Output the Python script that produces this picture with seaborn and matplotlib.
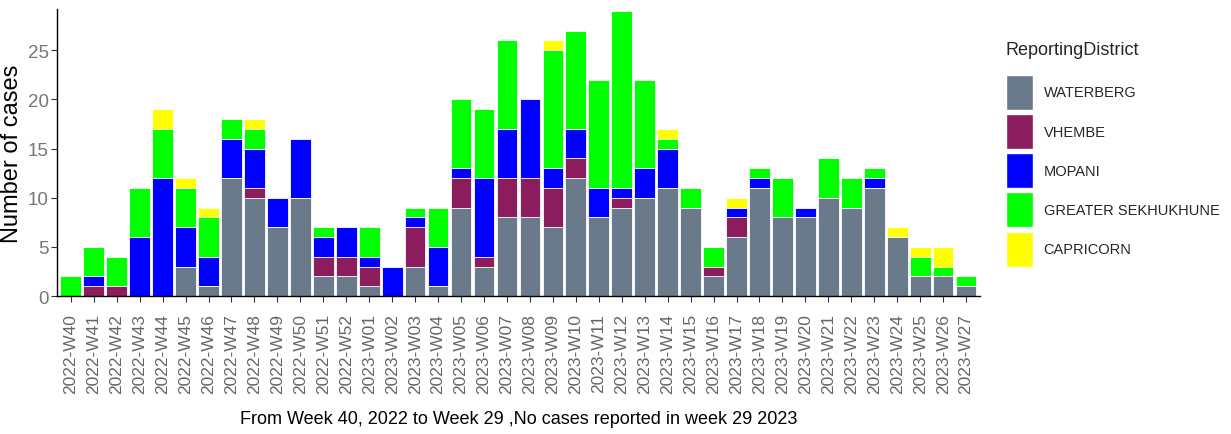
import numpy as np
import pandas as pd
import matplotlib
matplotlib.use("Agg")
import matplotlib.pyplot as plt
import seaborn as sns
from matplotlib.patches import Patch

# Semanas epidemiológicas (2022-W40 a 2023-W27)
weeks = [f"2022-W{w:02d}" for w in range(40, 53)] + [f"2023-W{w:02d}" for w in range(1, 28)]

districts = ["WATERBERG", "VHEMBE", "MOPANI", "GREATER SEKHUKHUNE", "CAPRICORN"]
colors = ["#6B7A8B", "#8B1C5E", "#0000FF", "#00FF00", "#FFFF00"]

waterberg = [0, 0, 0, 0, 0, 3, 1, 12, 10, 7, 10, 2, 2, 1, 0, 3, 1, 9, 3, 8,
             8, 7, 12, 8, 9, 10, 11, 9, 2, 6, 11, 8, 8, 10, 9, 11, 6, 2, 2, 1]
vhembe = [0, 1, 1, 0, 0, 0, 0, 0, 1, 0, 0, 2, 2, 2, 0, 4, 0, 3, 1, 4,
          4, 4, 2, 0, 1, 0, 0, 0, 1, 2, 0, 0, 0, 0, 0, 0, 0, 0, 0, 0]
mopani = [0, 1, 0, 6, 12, 4, 3, 4, 4, 3, 6, 2, 3, 1, 3, 1, 4, 1, 8, 5,
          8, 2, 3, 3, 1, 3, 4, 0, 0, 1, 1, 0, 1, 0, 0, 1, 0, 0, 0, 0]
sekhukhune = [2, 3, 3, 5, 5, 4, 4, 2, 2, 0, 0, 1, 0, 3, 0, 1, 4, 7, 7, 9,
              0, 12, 10, 11, 18, 9, 1, 2, 2, 0, 1, 4, 0, 4, 3, 1, 0, 2, 1, 1]
capricorn = [0, 0, 0, 0, 2, 1, 1, 0, 1, 0, 0, 0, 0, 0, 0, 0, 0, 0, 0, 0,
             0, 1, 0, 0, 0, 0, 1, 0, 0, 1, 0, 0, 0, 0, 0, 0, 1, 1, 2, 0]

series = [waterberg, vhembe, mopani, sekhukhune, capricorn]


def main():
    sns.set_theme(style="white")
    plt.rcParams["font.family"] = ["Liberation Sans", "DejaVu Sans"]

    df = pd.DataFrame({"week": weeks})
    for name, vals in zip(districts, series):
        df[name] = vals
    cum = df[districts].cumsum(axis=1)

    fig = plt.figure(figsize=(12.31, 4.35), dpi=100)
    ax = fig.add_axes([0.0463, 0.317, 0.7497, 0.66])

    # empilhar desenhando os totais acumulados de cima para baixo
    for name, col in reversed(list(zip(districts, colors))):
        sns.barplot(x=df["week"], y=cum[name], color=col, width=0.9,
                    edgecolor="white", linewidth=0.6, saturation=1, ax=ax)

    ax.set_xlim(-0.6, len(weeks) - 0.4)
    ax.set_ylim(0, 29.2)
    ax.set_yticks([0, 5, 10, 15, 20, 25])
    ax.tick_params(axis="x", rotation=90, labelsize=12.5, colors="#333333",
                   labelcolor="#666666", length=4, width=0.8, direction="out", pad=8)
    ax.tick_params(axis="y", labelsize=13.5, colors="#333333",
                   labelcolor="#777777", length=4, width=0.8, direction="out", pad=2)
    ax.tick_params(bottom=True, left=True)
    for side in ["top", "right"]:
        ax.spines[side].set_visible(False)
    for side in ["left", "bottom"]:
        ax.spines[side].set_color("black")
        ax.spines[side].set_linewidth(1.0)

    ax.set_ylabel("Number of cases", fontsize=17, color="black", labelpad=3)
    ax.set_xlabel("From Week 40, 2022 to Week 29 ,No cases reported in week 29 2023",
                  fontsize=13, color="black", labelpad=12)

    handles = [Patch(facecolor=c, edgecolor="white", label=d) for d, c in zip(districts, colors)]
    leg = fig.legend(handles=handles, title="ReportingDistrict", loc="upper left",
                     bbox_to_anchor=(0.811, 0.92), frameon=False, fontsize=10.5,
                     title_fontsize=13, handlelength=1.9, handleheight=3.3,
                     labelspacing=0.3, handletextpad=0.7, borderpad=0)
    leg._legend_box.align = "left"
    leg._legend_box.sep = 12

    fig.savefig("out.png", dpi=100)


if __name__ == "__main__":
    main()
